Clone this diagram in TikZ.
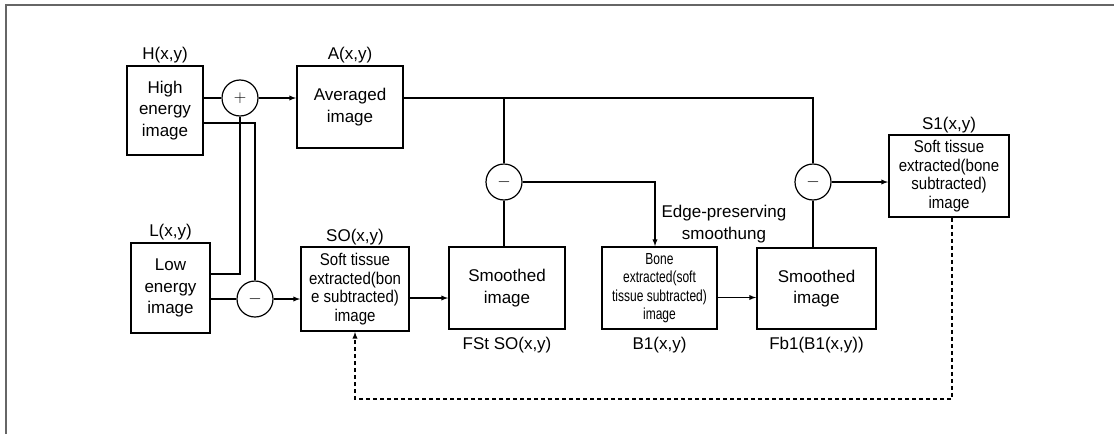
\documentclass[tikz,border=0pt]{standalone}
\usepackage{fontspec}
\setmainfont{Liberation Sans}
\newfontfamily\narrowfont[FakeStretch=0.885]{Liberation Sans}
\newfontfamily\narrowerfont[FakeStretch=0.75]{Liberation Sans}
\usetikzlibrary{arrows,calc}
\newcommand{\fnormal}{\fontsize{17}{21.5}\selectfont}
\newcommand{\fsmall}{\narrowfont\fontsize{17}{18.7}\selectfont}
\newcommand{\ftiny}{\narrowerfont\fontsize{16}{18.5}\selectfont}
\tikzstyle{imgbox}=[rectangle,draw=black,line width=1.8pt,inner sep=0pt,align=center,font=\fnormal]
\tikzstyle{op}=[circle,draw=black,line width=1.2pt,inner sep=0pt,minimum size=36pt]
\tikzstyle{lab}=[inner sep=0pt,font=\fnormal]
\tikzstyle{wire}=[line width=1.3pt]
\tikzstyle{flow}=[->,>=latex,line width=1.3pt]
\tikzstyle{fb}=[->,>=latex,line width=1.3pt,dashed,dash pattern=on 4pt off 3pt]

\begin{document}
\begin{tikzpicture}[x=1pt,y=-1pt]
    \useasboundingbox (0,0) rectangle (1114,434);
    \draw[gray!80!black,line width=1.2pt] (6,434) -- (6,5) -- (1114,5);

    % Bilder
    \node[imgbox, minimum width=76pt, minimum height=89pt, label={[lab,yshift=2pt]above:H(x,y)}] (H) at (165,110.5) {High\\energy\\image};
    \node[imgbox, minimum width=79pt, minimum height=90pt, label={[lab,yshift=2pt]above:L(x,y)}] (L) at (170.5,288) {Low\\energy\\image};
    \node[imgbox, minimum width=106pt, minimum height=82pt, label={[lab,yshift=2pt]above:A(x,y)}] (A) at (350,107) {Averaged\\image};
    \node[imgbox, font=\fsmall, minimum width=108pt, minimum height=84pt, label={[lab,yshift=1pt]above:SO(x,y)}] (SO) at (355,289) {Soft tissue\\extracted(bon\\e subtracted)\\image};
    \node[imgbox, minimum width=116pt, minimum height=82pt, label={[lab,yshift=-7pt]below:FSt SO(x,y)}] (sm1) at (507,288) {Smoothed\\image};
    \node[imgbox, font=\ftiny, minimum width=115pt, minimum height=82pt, label={[lab,yshift=-7pt]below:B1(x,y)}] (B1) at (659.5,288) {Bone\\extracted(soft\\tissue subtracted)\\image};
    \node[imgbox, minimum width=119pt, minimum height=81pt, label={[lab,yshift=-7pt]below:Fb1(B1(x,y))}] (sm2) at (816.5,288.5) {Smoothed\\image};
    \node[imgbox, font=\fsmall, minimum width=120pt, minimum height=82pt, label={[lab,yshift=1pt]above:S1(x,y)}] (S1) at (949,176) {Soft tissue\\extracted(bone\\subtracted)\\image};

    % Operatoren
    \node[op] (plus) at (240,98) {\fontsize{17}{20}\selectfont$+$};
    \node[op] (minL) at (255,299) {\fontsize{19}{20}\selectfont$-$};
    \node[op] (minM) at (504,182) {\fontsize{19}{20}\selectfont$-$};
    \node[op] (minR) at (813,182) {\fontsize{19}{20}\selectfont$-$};
    \node[lab, align=center] (eps) at (724,224) {Edge-preserving\\smoothung};

    \coordinate (avg) at ($(A.east)+(0,-9)$);
    \coordinate (hOut) at ($(H.east)+(0,12.5)$);
    \coordinate (lOut) at ($(L.east)+(0,-14)$);
    \coordinate (soOut) at ($(SO.east)+(0,9)$);
    \coordinate (b1Out) at ($(B1.east)+(0,9.5)$);
    \coordinate (b1In) at ($(B1.north)+(-4.5,0)$);
    \coordinate (s1Out) at ($(S1.south)+(3,0)$);
    \coordinate (fbbase) at (0,399);

    % Verbindungen
    \draw[wire] (plus.west -| H.east) -- (plus.west);
    \draw[flow] (plus.east) -- (plus -| A.west);
    \draw[wire] (lOut) -| (plus.south);
    \draw[wire] (hOut) -| (minL.north);
    \draw[wire] (minL.west -| L.east) -- (minL.west);
    \draw[flow] (minL.east) -- (minL -| SO.west);
    \draw[wire] (avg) -| (minR.north);
    \draw[wire] (minM |- avg) -- (minM.north);
    \draw[wire] (minM.south) -- (minM.south |- sm1.north);
    \draw[flow] (minM.east) -| (b1In);
    \draw[flow] (soOut) -- (soOut -| sm1.west);
    \draw[flow] (b1Out) -- (b1Out -| sm2.west);
    \draw[wire] (minR.south) -- (minR.south |- sm2.north);
    \draw[flow] (minR.east) -- (minR -| S1.west);
    \draw[fb] (s1Out) -- (s1Out |- fbbase) -| (SO.south);

\end{tikzpicture}
\end{document}
